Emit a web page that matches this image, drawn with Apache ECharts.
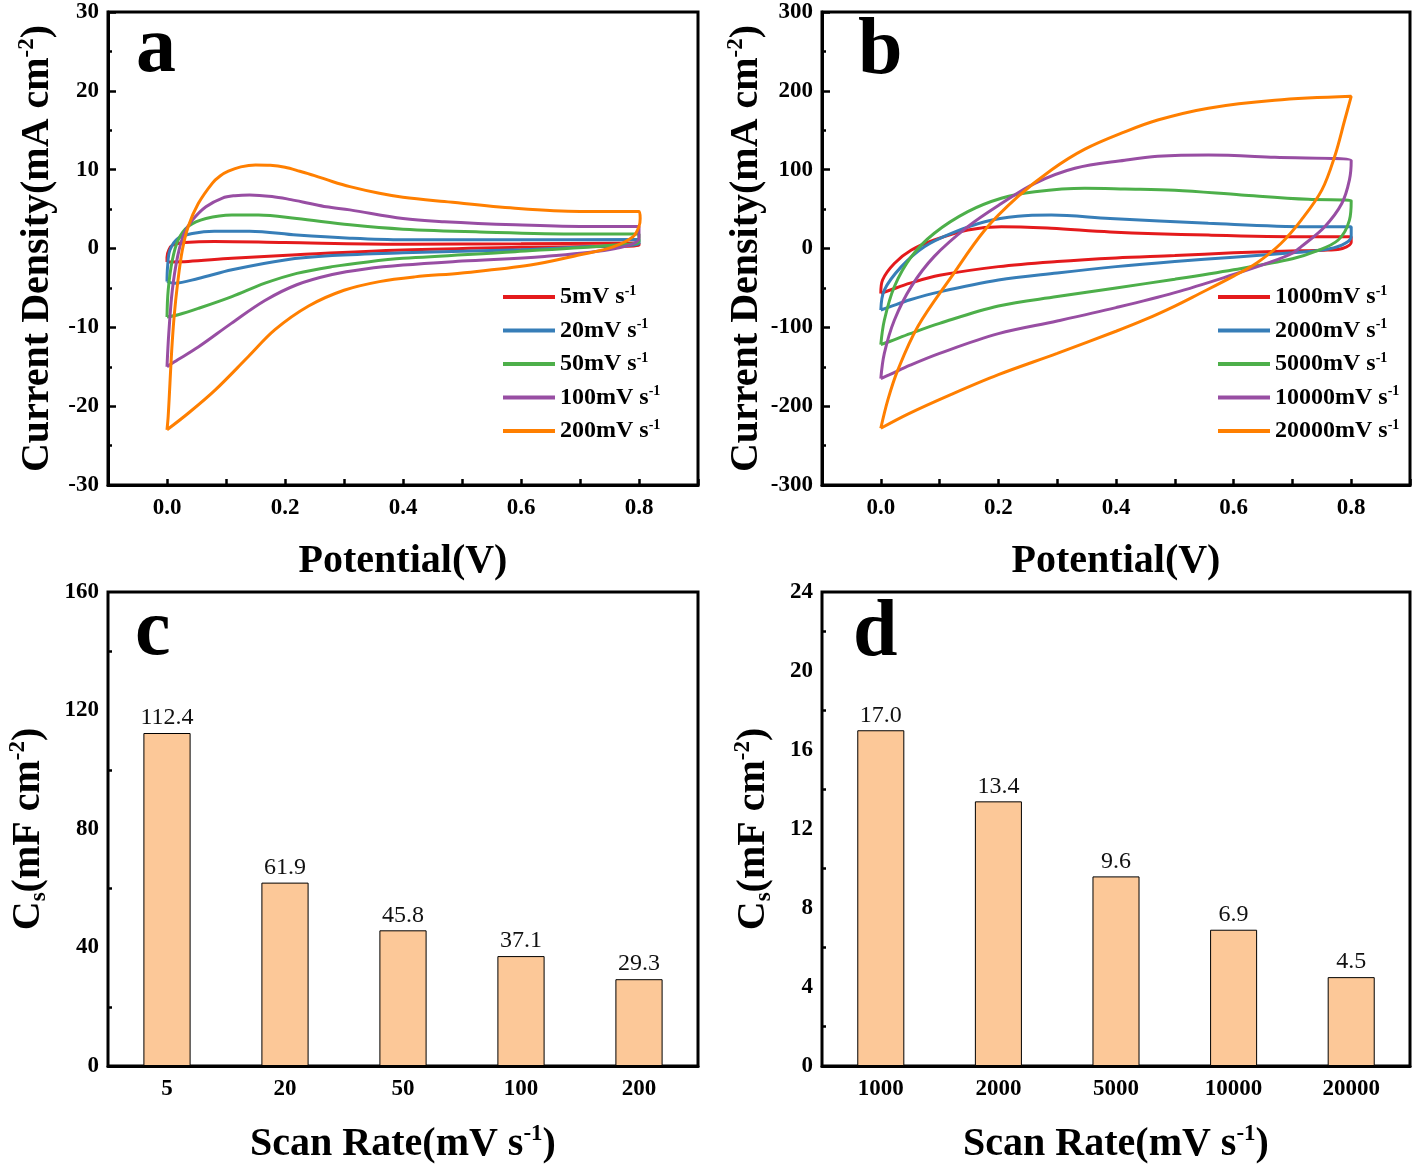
<!DOCTYPE html>
<html lang="en">
<head>
  <meta charset="UTF-8">
  <title>CV curves and areal capacitance</title>
  <script src="https://cdn.jsdelivr.net/npm/echarts@6/dist/echarts.min.js"></script>
  <style>html, body { margin: 0; padding: 0; background: #fff; }</style>
</head>
<body>
<div id="main" style="width: 1418px;height:1170px;"></div>
<script type="text/javascript">
    var SERIF = '"Liberation Serif", "Times New Roman", serif';
    var colors = ['#e41a1c', '#377eb8', '#4daf4a', '#984ea3', '#ff7f00'];

    // panel a: scan rates and CV loops, [potential V, current density mA cm-2]
    var namesA = ['5mV s-1', '20mV s-1', '50mV s-1', '100mV s-1', '200mV s-1'];
    var cvA5 = [[0,-1.7],[0,-1.1],[0.003,-0.2],[0.01,0.45],[0.03,0.75],[0.08,0.9],[0.2,0.75],[0.4,0.55],[0.6,0.6],[0.8,0.7],
        [0.8,0.4],[0.6,0.15],[0.4,-0.2],[0.22,-0.8],[0.11,-1.25],[0.036,-1.65],[0.005,-1.7],[0,-1.7]];
    var cvA20 = [[0,-4.2],[0.001,-2.3],[0.005,-0.2],[0.019,1.3],[0.043,1.9],[0.08,2.2],[0.14,2.2],[0.22,1.7],[0.31,1.3],[0.4,1.1],[0.6,1.1],[0.8,1.15],
        [0.8,0.6],[0.7,0.2],[0.6,-0.15],[0.4,-0.55],[0.28,-0.9],[0.2,-1.45],[0.11,-2.7],[0.053,-3.8],[0.013,-4.4],[0,-4.2]];
    var cvA50 = [[0,-8.7],[0.002,-5.3],[0.009,-1.5],[0.019,1.1],[0.036,2.8],[0.066,3.8],[0.11,4.25],[0.155,4.25],[0.22,3.8],[0.31,3.0],[0.4,2.45],[0.53,2.1],[0.7,1.85],[0.8,1.85],
        [0.8,0.9],[0.76,0.45],[0.59,-0.4],[0.4,-1.25],[0.34,-1.7],[0.28,-2.3],[0.22,-3.15],[0.166,-4.4],[0.11,-6.1],[0.053,-7.6],[0.019,-8.4],[0,-8.7]];
    var cvA100 = [[0,-15],[0.003,-10.8],[0.009,-5.3],[0.018,-1.0],[0.029,1.9],[0.043,3.6],[0.066,5.3],[0.094,6.4],[0.115,6.7],[0.14,6.8],[0.178,6.6],[0.21,6.2],[0.24,5.75],[0.27,5.3],[0.31,4.9],[0.4,3.8],[0.47,3.4],[0.59,3.0],[0.7,2.8],[0.8,2.8],
        [0.8,1.3],[0.76,0.0],[0.64,-1.0],[0.5,-1.6],[0.4,-2.1],[0.336,-2.6],[0.28,-3.3],[0.22,-4.6],[0.166,-6.6],[0.109,-9.5],[0.053,-12.5],[0.012,-14.4],[0,-15]];
    var cvA200 = [[0,-23],[0.002,-21.3],[0.005,-17.1],[0.008,-12.9],[0.012,-8.7],[0.018,-4.4],[0.026,-0.2],[0.036,2.8],[0.053,5.7],[0.077,8.3],[0.09,9.2],[0.104,9.8],[0.125,10.35],[0.15,10.6],[0.175,10.55],[0.2,10.3],[0.225,9.8],[0.25,9.25],[0.28,8.5],[0.31,7.85],[0.36,7.0],[0.4,6.5],[0.47,5.95],[0.59,5.1],[0.7,4.7],[0.8,4.7],
        [0.802,3.8],[0.8,2.8],[0.79,1.5],[0.756,0.2],[0.7,-0.8],[0.616,-2.1],[0.5,-3.1],[0.42,-3.6],[0.36,-4.2],[0.3,-5.3],[0.24,-7.3],[0.183,-10.3],[0.138,-13.7],[0.081,-18.0],[0.036,-20.9],[0,-23]];

    // panel b
    var namesB = ['1000mV s-1', '2000mV s-1', '5000mV s-1', '10000mV s-1', '20000mV s-1'];
    var cvB1000 = [[0,-57],[0.003,-40],[0.023,-19],[0.052,-2],[0.091,10.8],[0.148,23.5],[0.205,27.7],[0.29,25.6],[0.39,21],[0.557,17],[0.727,15],[0.8,15],
        [0.8,8],[0.785,0],[0.76,-2],[0.71,-3],[0.6,-5.5],[0.5,-9],[0.4,-12],[0.3,-16.5],[0.2,-23],[0.1,-34],[0.05,-44],[0.015,-53],[0,-57]];
    var cvB2000 = [[0,-78],[0.006,-52.7],[0.035,-23],[0.074,2.3],[0.12,19.3],[0.177,34],[0.233,41],[0.29,42.5],[0.39,38],[0.557,32],[0.727,27.7],[0.8,27.7],
        [0.8,15],[0.784,4.4],[0.75,-2],[0.7,-5.5],[0.6,-11],[0.5,-16.5],[0.4,-23],[0.3,-31],[0.2,-40],[0.1,-55],[0.05,-65],[0.015,-74],[0,-78]];
    var cvB5000 = [[0,-122],[0.006,-91],[0.023,-48.5],[0.052,-10.4],[0.091,19.3],[0.148,46.7],[0.205,63.7],[0.262,72],[0.347,76.4],[0.415,75.5],[0.5,74],[0.613,68],[0.727,62.4],[0.8,60.7],
        [0.797,36],[0.778,10.8],[0.738,-4],[0.7,-13],[0.6,-27],[0.5,-39],[0.4,-50],[0.3,-61],[0.2,-73],[0.1,-95],[0.05,-108],[0.015,-118],[0,-122]];
    var cvB10000 = [[0,-165],[0.006,-133],[0.023,-91],[0.052,-48],[0.091,-10],[0.148,27.7],[0.205,57],[0.262,82.7],[0.33,101.8],[0.415,112],[0.471,117],[0.557,118.7],[0.67,115.7],[0.8,111.5],
        [0.797,87],[0.784,57],[0.755,27.7],[0.715,2.3],[0.7,-6],[0.66,-18],[0.6,-33],[0.5,-56],[0.4,-75],[0.3,-92],[0.2,-108],[0.1,-133],[0.05,-148],[0.015,-160],[0,-165]];
    var cvB20000 = [[0,-228],[0.012,-192],[0.029,-154],[0.063,-99],[0.12,-36],[0.177,23.5],[0.233,65.7],[0.29,99.6],[0.347,126],[0.415,148],[0.471,163],[0.557,178],[0.67,188],[0.8,193],
        [0.789,163],[0.772,117],[0.75,74],[0.715,36],[0.68,6],[0.64,-18],[0.6,-35],[0.54,-58],[0.5,-73],[0.45,-90],[0.4,-105],[0.3,-133],[0.2,-160],[0.12,-185],[0.046,-210],[0,-228]];

    // panels c and d: areal capacitance
    var ratesC = ['5', '20', '50', '100', '200'];
    var capC = [112.4, 61.9, 45.8, 37.1, 29.3];
    var ratesD = ['1000', '2000', '5000', '10000', '20000'];
    var capD = [17.0, 13.4, 9.6, 6.9, 4.5];

    var cvA = [cvA5, cvA20, cvA50, cvA100, cvA200];
    var cvB = [cvB1000, cvB2000, cvB5000, cvB10000, cvB20000];

    var myChart = echarts.init(document.getElementById('main'));

    var titleRich = {
        t: { fontFamily: SERIF, fontWeight: 'bold', fontSize: 40, lineHeight: 44, color: '#000' },
        sup: { fontFamily: SERIF, fontWeight: 'bold', fontSize: 23, lineHeight: 23, verticalAlign: 'top', color: '#000' },
        sub: { fontFamily: SERIF, fontWeight: 'bold', fontSize: 23, lineHeight: 23, verticalAlign: 'bottom', color: '#000' }
    };
    var labelStyle = { fontFamily: SERIF, fontWeight: 'bold', fontSize: 23, color: '#000' };
    var blackLine = { color: '#000', width: 3 };
    var tickStyle = { color: '#000', width: 2.5 };

    function potentialAxis(gi) {
        return {
            type: 'value', gridIndex: gi, min: -0.1, max: 0.9, interval: 0.1,
            axisLine: { onZero: false, lineStyle: blackLine },
            axisTick: { inside: true, length: 6, lineStyle: tickStyle },
            splitLine: { show: false },
            axisLabel: Object.assign({ margin: 12, formatter: function (v) {
                var k = Math.round(v * 10);
                return (k >= 0 && k % 2 === 0) ? (k / 10).toFixed(1) : '';
            } }, labelStyle),
            name: '{t|Potential(V)}', nameLocation: 'middle', nameGap: 55,
            nameTextStyle: { rich: titleRich }
        };
    }
    function rateAxis(gi, cats) {
        return {
            type: 'category', gridIndex: gi, data: cats,
            axisLine: { onZero: false, lineStyle: blackLine },
            axisTick: { inside: true, alignWithLabel: true, length: 8, lineStyle: tickStyle },
            axisLabel: Object.assign({ margin: 12 }, labelStyle),
            name: '{t|Scan Rate(mV s}{sup|-1}{t|)}', nameLocation: 'middle', nameGap: 57,
            nameTextStyle: { rich: titleRich }
        };
    }
    function valAxis(gi, min, max, step, name, gap) {
        return {
            type: 'value', gridIndex: gi, min: min, max: max, interval: step,
            axisLine: { onZero: false, lineStyle: blackLine },
            axisTick: { inside: true, length: 8, lineStyle: tickStyle },
            minorTick: { show: true, splitNumber: 2, length: 4, lineStyle: tickStyle },
            splitLine: { show: false },
            axisLabel: Object.assign({ margin: 9 }, labelStyle),
            name: name, nameLocation: 'middle', nameGap: gap,
            nameTextStyle: { rich: titleRich }
        };
    }

    var series = [];
    namesA.forEach(function (n, i) {
        series.push({ name: n, type: 'line', xAxisIndex: 0, yAxisIndex: 0, data: cvA[i],
            symbol: 'none', smooth: 0.35, smoothConstraint: false,
            lineStyle: { width: 3, color: colors[i] }, itemStyle: { color: colors[i] } });
    });
    namesB.forEach(function (n, i) {
        series.push({ name: n, type: 'line', xAxisIndex: 1, yAxisIndex: 1, data: cvB[i],
            symbol: 'none', smooth: 0.35, smoothConstraint: false,
            lineStyle: { width: 3, color: colors[i] }, itemStyle: { color: colors[i] } });
    });
    var barCommon = {
        type: 'bar', barWidth: '40%',
        itemStyle: { color: '#fcc898', borderColor: '#000', borderWidth: 1 },
        label: { show: true, position: 'top', distance: 3, fontFamily: SERIF, fontSize: 24, color: '#111',
            formatter: function (p) { return p.value.toFixed(1); } }
    };
    series.push(Object.assign({ xAxisIndex: 2, yAxisIndex: 2, data: capC }, barCommon));
    series.push(Object.assign({ xAxisIndex: 3, yAxisIndex: 3, data: capD }, barCommon));

    function legendFor(names, left) {
        return {
            data: names, left: left, top: 284, orient: 'vertical', selectedMode: false, padding: 0,
            icon: 'rect', itemWidth: 52, itemHeight: 4, itemGap: 8.5,
            formatter: function (n) { return '{t|' + n.replace(' s-1', '') + ' s}{sup|-1}'; },
            textStyle: { rich: {
                t: { fontFamily: SERIF, fontWeight: 'bold', fontSize: 24, lineHeight: 26, color: '#000' },
                sup: { fontFamily: SERIF, fontWeight: 'bold', fontSize: 14, lineHeight: 14, verticalAlign: 'top', color: '#000' }
            } }
        };
    }

    function letter(t, x, y) {
        return { type: 'text', left: x, top: y, z: 10,
            style: { text: t, fill: '#000', font: 'bold 80px ' + SERIF } };
    }

    var option = {
        animation: false,
        backgroundColor: '#fff',
        grid: [
            { left: 108, top: 12, width: 590, height: 473, show: true, borderColor: '#000', borderWidth: 3 },
            { left: 822, top: 12, width: 588, height: 473, show: true, borderColor: '#000', borderWidth: 3 },
            { left: 108, top: 592, width: 590, height: 474, show: true, borderColor: '#000', borderWidth: 3 },
            { left: 822, top: 592, width: 588, height: 474, show: true, borderColor: '#000', borderWidth: 3 }
        ],
        xAxis: [potentialAxis(0), potentialAxis(1), rateAxis(2, ratesC), rateAxis(3, ratesD)],
        yAxis: [
            valAxis(0, -30, 30, 10, '{t|Current Density(mA cm}{sup|-2}{t|)}', 48),
            valAxis(1, -300, 300, 100, '{t|Current Density(mA cm}{sup|-2}{t|)}', 46),
            valAxis(2, 0, 160, 40, '{t|C}{sub|s}{t|(mF cm}{sup|-2}{t|)}', 57),
            valAxis(3, 0, 24, 4, '{t|C}{sub|s}{t|(mF cm}{sup|-2}{t|)}', 46)
        ],
        legend: [legendFor(namesA, 503), legendFor(namesB, 1218)],
        graphic: [letter('a', 136, 10), letter('b', 858, 12), letter('c', 135, 593), letter('d', 853, 594)],
        series: series
    };

    myChart.setOption(option);
</script>
</body>
</html>
